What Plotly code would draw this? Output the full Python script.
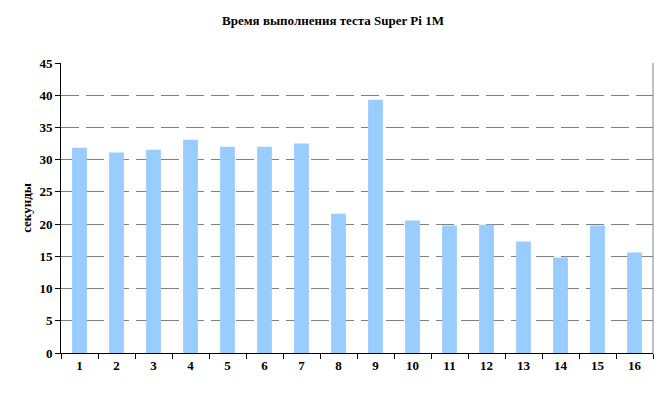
import plotly.graph_objects as go

categories = [str(i) for i in range(1, 17)]
seconds = [31.85, 31.1, 31.55, 33.1, 32.0, 32.0, 32.5, 21.6, 39.3, 20.55, 19.8, 19.9, 17.3, 14.8, 19.8, 15.6]
y_ticks = list(range(0, 50, 5))

font_family = "Liberation Serif, Times New Roman, serif"

# page body has an 8px default margin, so the figure is sized to fit the window
W, H = 658, 389

fig = go.Figure(go.Bar(
    x=categories, y=seconds,
    marker=dict(color="#99CCFF", line=dict(width=0)),
))

fig.update_layout(
    width=W, height=H,
    margin=dict(l=53, r=13, t=55, b=44),
    paper_bgcolor="white", plot_bgcolor="white",
    bargap=0.6,
    showlegend=False,
    font=dict(family=font_family, size=13, color="black"),
    title=dict(text="<b>Время выполнения теста Super Pi 1M</b>", x=(333 - 8) / W, xanchor="center",
               y=1 - 12 / H, yanchor="middle", font=dict(size=13, family=font_family)),
    xaxis=dict(
        type="category", showline=True, linecolor="black", linewidth=1,
        ticks="outside", tickson="boundaries", ticklen=5, tickcolor="black",
        tickfont=dict(size=13, family=font_family, weight="bold"),
        showgrid=False,
    ),
    yaxis=dict(
        range=[0, 45], tickvals=y_ticks, showline=True, linecolor="black", linewidth=1,
        ticks="outside", ticklen=5, tickcolor="black",
        tickfont=dict(size=13, family=font_family, weight="bold"),
        showgrid=True, gridcolor="#808080", gridwidth=1, griddash="18px,7px",
        zeroline=False,
        title=dict(text="<b>секунды</b>", standoff=4, font=dict(size=13, family=font_family)),
    ),
    shapes=[dict(type="line", xref="x domain", yref="y domain", x0=1, x1=1, y0=0, y1=1,
                 line=dict(color="#808080", width=1))],
)

fig.write_html("out.html")
